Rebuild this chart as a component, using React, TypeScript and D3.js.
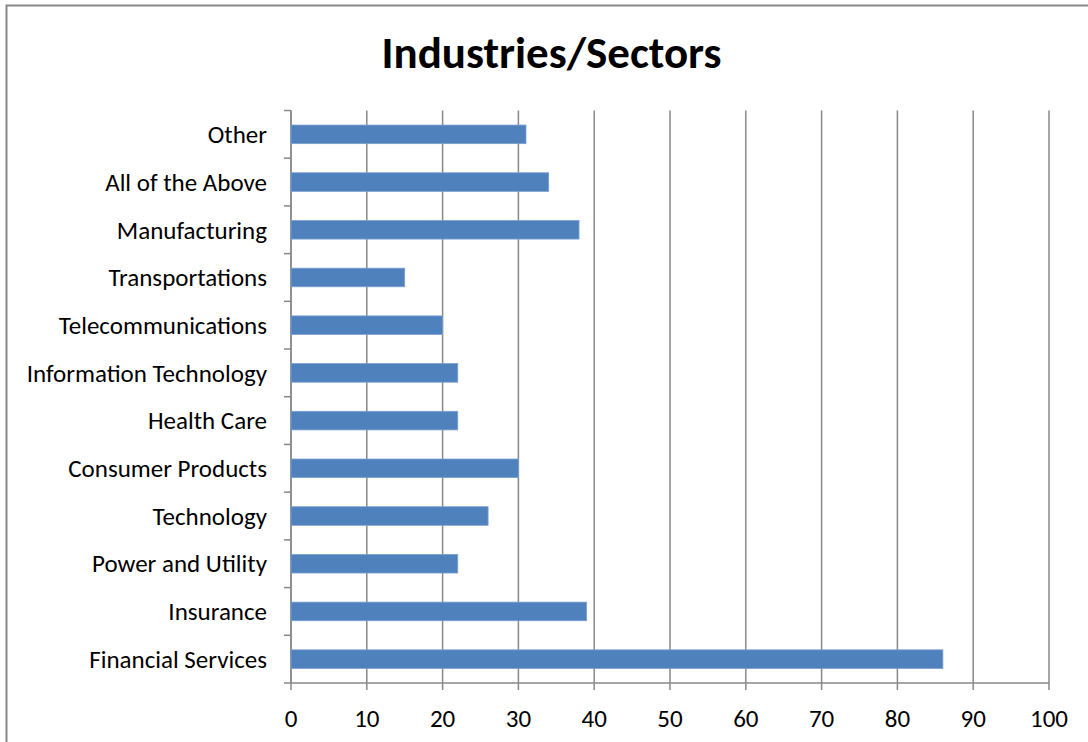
import React from "react";
import * as d3 from "d3";

const categories = [
  "Financial Services",
  "Insurance",
  "Power and Utility",
  "Technology",
  "Consumer Products",
  "Health Care",
  "Information Technology",
  "Telecommunications",
  "Transportations",
  "Manufacturing",
  "All of the Above",
  "Other",
];
const values = [86, 39, 22, 26, 30, 22, 22, 20, 15, 38, 34, 31];
const xTicks = [0, 10, 20, 30, 40, 50, 60, 70, 80, 90, 100];
const title = "Industries/Sectors";

export default function App() {
  const W = 1088, H = 742;
  const left = 291, right = 1049, top = 110.5, bottom = 683;
  const x = d3.scaleLinear().domain([0, 100]).range([left, right]);
  const y = d3
    .scaleBand<string>()
    .domain([...categories].reverse())
    .range([top, bottom])
    .paddingInner(0.61)
    .paddingOuter(0.305);
  const bandStep = (bottom - top) / categories.length;
  const font = "Carlito, Calibri, 'Open Sans', sans-serif";
  return (
    <svg width={W} height={H} style={{ position: "absolute", left: 0, top: 0, background: "#fff" }}>
      <rect x={6.5} y={5.5} width={W + 10} height={H + 10} fill="#fff" stroke="#888" strokeWidth={2} />
      <text x={551.5} y={68} textAnchor="middle" fontFamily={font} fontWeight="bold" fontSize={45} fill="#000">
        {title}
      </text>
      {xTicks.map((t) => (
        <line key={"g" + t} x1={x(t)} x2={x(t)} y1={top} y2={bottom + 7} stroke="#888" strokeWidth={1.5} />
      ))}
      {d3.range(categories.length + 1).map((i) => (
        <line key={"yt" + i} x1={left - 7} x2={left} y1={top + i * bandStep} y2={top + i * bandStep} stroke="#888" strokeWidth={1.5} />
      ))}
      <line x1={left} x2={left} y1={top} y2={bottom} stroke="#888" strokeWidth={1.5} />
      <line x1={left} x2={right} y1={bottom} y2={bottom} stroke="#888" strokeWidth={1.5} />
      {categories.map((c, i) => (
        <rect
          key={c}
          x={x(0)}
          y={y(c)}
          width={x(values[i]) - x(0)}
          height={y.bandwidth()}
          fill="#4F81BD"
          stroke="#7BA0D0"
          strokeWidth={0.8}
        />
      ))}
      {categories.map((c) => (
        <text
          key={"l" + c}
          x={267}
          y={(y(c) as number) + y.bandwidth() / 2}
          dy="0.35em"
          textAnchor="end"
          fontFamily={font}
          fontSize={25}
          fill="#000"
        >
          {c}
        </text>
      ))}
      {xTicks.map((t) => (
        <text key={"xl" + t} x={x(t)} y={727} textAnchor="middle" fontFamily={font} fontSize={25} fill="#000">
          {t}
        </text>
      ))}
    </svg>
  );
}
